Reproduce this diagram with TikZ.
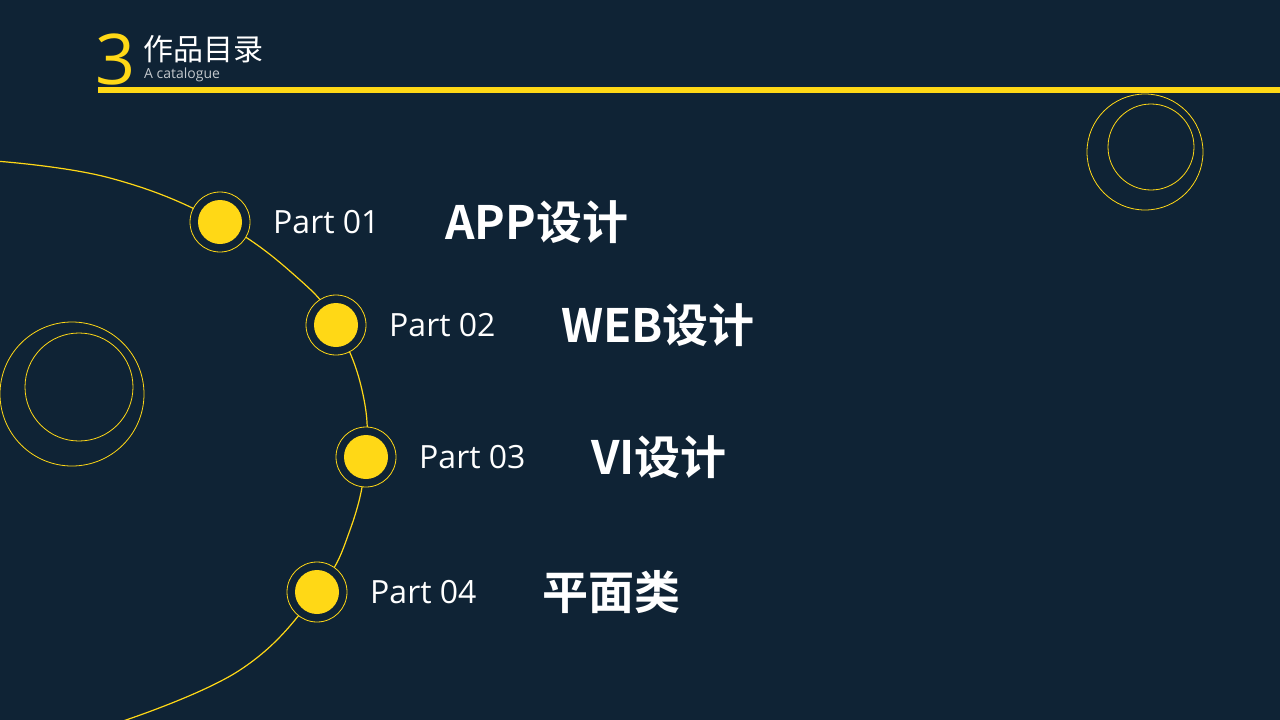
\documentclass[tikz,border=0pt]{standalone}
\usepackage{fontspec}
\setmainfont{Noto Sans CJK SC}
\newfontfamily\cjkbold{Noto Sans CJK SC}[UprightFont=* Bold]
\newfontfamily\latin{Open Sans}
\definecolor{bg}{HTML}{0F2335}
\definecolor{yel}{HTML}{FFD816}
\begin{document}
\begin{tikzpicture}[x=1pt,y=-1pt,
  ring/.style={draw=yel,line width=0.8pt,fill=bg,circle,minimum size=60pt,inner sep=0pt},
  dotc/.style={fill=yel,circle,minimum size=44pt,inner sep=0pt},
  part/.style={text=white,font=\latin\fontsize{32}{32}\selectfont,anchor=west,inner sep=0pt},
  ttl/.style={text=white,font=\cjkbold\fontsize{46}{46}\selectfont,anchor=west,inner sep=0pt}]
\fill[bg] (0,0) rectangle (1280,720);
\useasboundingbox (0,0) rectangle (1280,720);
% header
\node[text=yel,font=\latin\fontsize{70}{70}\selectfont,anchor=west,inner sep=0pt] (num) at (95,59) {3};
\node[text=white,font=\fontsize{30}{30}\selectfont,anchor=west,inner sep=0pt] (ht) at (143,49) {作品目录};
\node[text=white!75!bg,font=\latin\fontsize{14}{14}\selectfont,anchor=west,inner sep=0pt] (hs) at (144,75) {A catalogue};
\fill[yel] (98,87) rectangle (1280,93);
% decorative circles
\draw[yel,line width=0.8pt] (1145,152) circle (58) (1151,147) circle (43);
\draw[yel,line width=0.8pt] (72,394) circle (72) (79,387) circle (54);
% arc
\draw[yel,line width=1.2pt] plot[smooth,tension=0.7] coordinates {(-5,161) (110,178) (220,222) (300,280) (336,325) (362,390) (366,457) (350,530) (317,592) (240,670) (120,722)};
% items
\foreach \n/\x/\y/\p/\t in {a/220/222/01/APP设计, b/336/325/02/WEB设计, c/366/457/03/VI设计, d/317/592/04/平面类}{
  \node[ring] (r\n) at (\x,\y) {};
  \node[dotc] (d\n) at (r\n) {};
  \node[part] (p\n) at ([xshift=53pt]r\n.center) {Part \p};
  \node[ttl] (t\n) at ([xshift=225pt]r\n.center) {\t};
}
\end{tikzpicture}
\end{document}
